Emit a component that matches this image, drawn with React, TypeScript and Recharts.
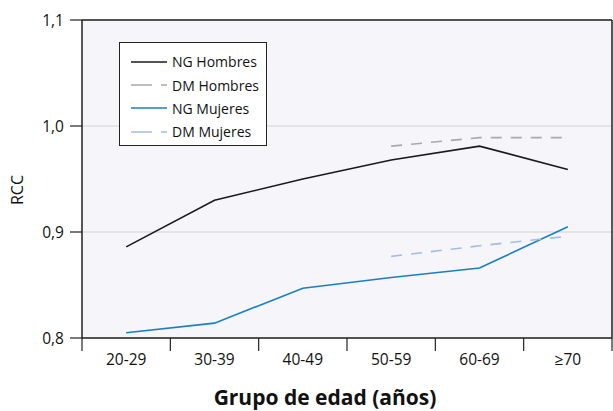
import { LineChart, Line, XAxis, YAxis, CartesianGrid, ReferenceLine } from "recharts";

const GROUPS = ["20-29", "30-39", "40-49", "50-59", "60-69", "≥70"];
const NG_HOMBRES = [0.886, 0.930, 0.950, 0.968, 0.981, 0.959];
const DM_HOMBRES = [null, null, null, 0.981, 0.989, 0.989];
const NG_MUJERES = [0.805, 0.814, 0.847, 0.857, 0.866, 0.905];
const DM_MUJERES = [null, null, null, 0.877, 0.887, 0.896];
const Y_TICKS = [0.8, 0.9, 1.0, 1.1];

const FONT = "'Open Sans', 'Noto Sans', sans-serif";
const PLOT_LEFT = 82;
const PLOT_RIGHT = 612;
const PLOT_BOTTOM = 338;
const BAND = (PLOT_RIGHT - PLOT_LEFT) / GROUPS.length;

const SERIES = [
  { key: "ngH", name: "NG Hombres", color: "#1a1a1a", dash: undefined },
  { key: "dmH", name: "DM Hombres", color: "#a9a9ad", dash: "11 9" },
  { key: "ngM", name: "NG Mujeres", color: "#1b7fc4", dash: undefined },
  { key: "dmM", name: "DM Mujeres", color: "#a5bde3", dash: "11 9" },
];

const data = GROUPS.map((g, i) => ({
  x: i + 0.5,
  group: g,
  ngH: NG_HOMBRES[i],
  dmH: DM_HOMBRES[i],
  ngM: NG_MUJERES[i],
  dmM: DM_MUJERES[i],
}));

// tick marks on the band edges, labels centred in each band
function XTick({ x, payload }: any) {
  const i = payload.value;
  return (
    <g>
      <line x1={x} y1={PLOT_BOTTOM} x2={x} y2={PLOT_BOTTOM + 13} stroke="#222" strokeWidth={1.2} />
      {i < GROUPS.length && (
        <text x={x + BAND / 2} y={PLOT_BOTTOM + 27} textAnchor="middle" fontSize={15.5} fill="#111" fontFamily={FONT}>
          {GROUPS[i]}
        </text>
      )}
    </g>
  );
}

// legend sits over the plot, drawn outside recharts so it takes no layout space
function LegendBox() {
  return (
    <div
      style={{
        position: "absolute",
        left: 119,
        top: 42,
        background: "#fff",
        border: "1.3px solid #222",
        width: 148,
        height: 104,
        boxSizing: "border-box",
        padding: "7px 0 0 10px",
        fontFamily: FONT,
        fontSize: 14,
        color: "#111",
      }}
    >
      {SERIES.map((s) => (
        <div key={s.key} style={{ display: "flex", alignItems: "center", height: 23.4, whiteSpace: "nowrap" }}>
          <svg width={42} height={10} style={{ flexShrink: 0 }}>
            <line x1={1} y1={5} x2={37} y2={5} stroke={s.color} strokeWidth={1.6} strokeDasharray={s.dash ? "21 9" : undefined} />
          </svg>
          <span>{s.name}</span>
        </div>
      ))}
    </div>
  );
}

export default function App() {
  return (
    <div style={{ width: 613, height: 411, position: "relative" }}>
      <style>{"body{margin:0}"}</style>
      <LineChart width={613} height={411} data={data} margin={{ top: 20, right: 1, bottom: 0, left: 0 }}>
        <CartesianGrid fill="#f5f5fa" vertical={false} stroke="#d2d2d6" strokeWidth={1.2} />
        <XAxis
          dataKey="x"
          type="number"
          domain={[0, GROUPS.length]}
          ticks={[0, 1, 2, 3, 4, 5, 6]}
          height={73}
          tickLine={false}
          axisLine={{ stroke: "#222", strokeWidth: 1.5 }}
          tick={<XTick />}
          interval={0}
          label={{
            content: () => (
              <text x={325} y={405} textAnchor="middle" fontSize={21} fontWeight="bold" fill="#111" fontFamily={FONT}>
                Grupo de edad (años)
              </text>
            ),
          }}
        />
        <YAxis
          domain={[0.8, 1.1]}
          ticks={Y_TICKS}
          width={82}
          allowDataOverflow
          tickSize={12}
          tickMargin={6}
          tickLine={{ stroke: "#222", strokeWidth: 1.2 }}
          axisLine={{ stroke: "#222", strokeWidth: 1.5 }}
          tick={{ fontSize: 15.5, fill: "#111", fontFamily: FONT }}
          tickFormatter={(v: number) => v.toFixed(1).replace(".", ",")}
          label={{
            content: () => (
              <text
                x={17}
                y={190}
                transform="rotate(-90 17 190)"
                textAnchor="middle"
                dominantBaseline="central"
                fontSize={16}
                fill="#111"
                fontFamily={FONT}
              >
                RCC
              </text>
            ),
          }}
        />
        <ReferenceLine y={1.1} stroke="#222" strokeWidth={1.5} />
        <ReferenceLine x={GROUPS.length} stroke="#222" strokeWidth={1.5} />
        {SERIES.map((s) => (
          <Line
            key={s.key}
            dataKey={s.key}
            name={s.name}
            type="linear"
            stroke={s.color}
            strokeWidth={1.6}
            strokeDasharray={s.dash}
            dot={false}
            activeDot={false}
            connectNulls={false}
            isAnimationActive={false}
          />
        ))}
      </LineChart>
      <LegendBox />
    </div>
  );
}
